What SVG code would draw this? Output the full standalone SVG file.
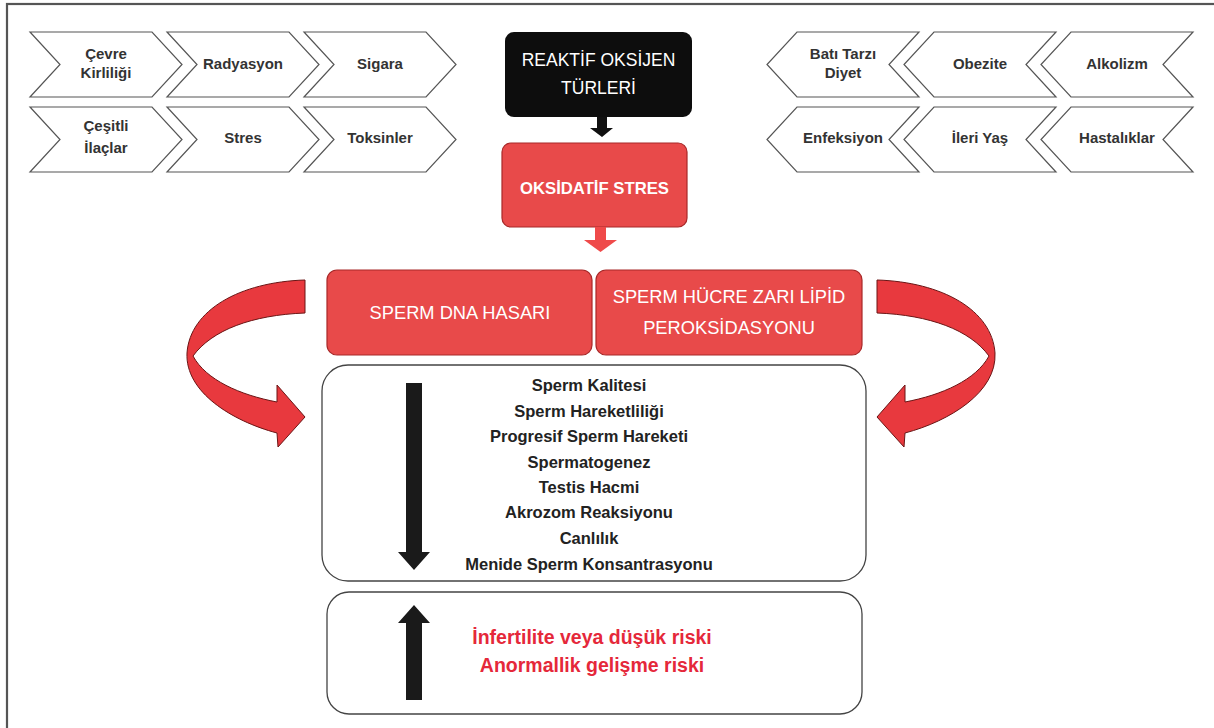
<svg xmlns="http://www.w3.org/2000/svg" width="1214" height="728" viewBox="0 0 1214 728">
<defs>
<style>
.chev{fill:#fff;stroke:#555;stroke-width:1.2;stroke-linejoin:miter}
.ct{font-family:"Liberation Sans",Arial,sans-serif;font-weight:bold;font-size:15px;fill:#333;text-anchor:middle}
.rbox{fill:#e84a4a;stroke:#a82828;stroke-width:1.2}
.wt{font-family:"Liberation Sans",Arial,sans-serif;fill:#fff;text-anchor:middle}
.wbox{fill:#fff;stroke:#444;stroke-width:1.3}
.lt{font-family:"Liberation Sans",Arial,sans-serif;font-weight:bold;font-size:16.5px;fill:#222;text-anchor:middle}
.rt{font-family:"Liberation Sans",Arial,sans-serif;font-weight:bold;font-size:19.5px;fill:#e5283a;text-anchor:middle}
.curv{fill:#e8393e;stroke:#6a1515;stroke-width:1}
</style>
<polygon id="chevR" class="chev" points="0,0 122,0 152,32.5 122,65 0,65 30,32.5"/>
<polygon id="chevL" class="chev" points="30,0 152,0 122,32.5 152,65 30,65 0,32.5"/>
</defs>
<rect x="0" y="0" width="1214" height="728" fill="#fff"/>
<rect x="7" y="4" width="1230" height="760" fill="none" stroke="#555" stroke-width="2.2"/>

<g id="left-factors">
<g id="cevre"><use href="#chevR" x="30" y="32"/><text class="ct" x="106" y="59">Çevre</text><text class="ct" x="106" y="78">Kirliliği</text></g>
<g id="radyasyon"><use href="#chevR" x="167" y="32"/><text class="ct" x="243" y="69">Radyasyon</text></g>
<g id="sigara"><use href="#chevR" x="304" y="32"/><text class="ct" x="380" y="69">Sigara</text></g>
<g id="ilaclar"><use href="#chevR" x="30" y="107"/><text class="ct" x="106" y="131">Çeşitli</text><text class="ct" x="106" y="153">İlaçlar</text></g>
<g id="stres"><use href="#chevR" x="167" y="107"/><text class="ct" x="243" y="143">Stres</text></g>
<g id="toksinler"><use href="#chevR" x="304" y="107"/><text class="ct" x="380" y="143">Toksinler</text></g>
</g>

<g id="right-factors">
<g id="bati"><use href="#chevL" x="767" y="32"/><text class="ct" x="843" y="59">Batı Tarzı</text><text class="ct" x="843" y="78">Diyet</text></g>
<g id="obezite"><use href="#chevL" x="904" y="32"/><text class="ct" x="980" y="69">Obezite</text></g>
<g id="alkolizm"><use href="#chevL" x="1041" y="32"/><text class="ct" x="1117" y="69">Alkolizm</text></g>
<g id="enfeksiyon"><use href="#chevL" x="767" y="107"/><text class="ct" x="843" y="143">Enfeksiyon</text></g>
<g id="ileri-yas"><use href="#chevL" x="904" y="107"/><text class="ct" x="980" y="143">İleri Yaş</text></g>
<g id="hastaliklar"><use href="#chevL" x="1041" y="107"/><text class="ct" x="1117" y="143">Hastalıklar</text></g>
</g>

<g id="ros">
<rect x="505" y="32" width="187" height="85" rx="9" fill="#0d0d0d"/>
<text class="wt" x="598.5" y="66" font-size="17.5">REAKTİF OKSİJEN</text>
<text class="wt" x="598.5" y="94" font-size="17.5">TÜRLERİ</text>
</g>

<g id="oksidatif">
<rect class="rbox" x="502" y="143" width="185" height="84" rx="9"/>
<text class="wt" x="594.5" y="194" font-size="16.7" font-weight="bold">OKSİDATİF STRES</text>
</g>

<g id="dna">
<rect class="rbox" x="327" y="270" width="265" height="85" rx="10"/>
<text class="wt" x="460" y="319" font-size="18.3">SPERM DNA HASARI</text>
</g>

<g id="lipid">
<rect class="rbox" x="596" y="270" width="266" height="85" rx="10"/>
<text class="wt" x="729" y="303" font-size="18.3">SPERM HÜCRE ZARI LİPİD</text>
<text class="wt" x="729" y="334" font-size="18.3">PEROKSİDASYONU</text>
</g>

<g id="parametreler">
<rect class="wbox" x="322" y="365" width="544" height="216" rx="26"/>
<text class="lt" x="589" y="391">Sperm Kalitesi</text>
<text class="lt" x="589" y="417">Sperm Hareketliliği</text>
<text class="lt" x="589" y="442">Progresif Sperm Hareketi</text>
<text class="lt" x="589" y="468">Spermatogenez</text>
<text class="lt" x="589" y="493">Testis Hacmi</text>
<text class="lt" x="589" y="518">Akrozom Reaksiyonu</text>
<text class="lt" x="589" y="544">Canlılık</text>
<text class="lt" x="589" y="570">Menide Sperm Konsantrasyonu</text>
<polygon fill="#1a1a1a" points="406,383 422,383 422,552 430,552 414,570 398,552 406,552"/>
</g>

<g id="riskler">
<rect class="wbox" x="327" y="592" width="535" height="122" rx="22"/>
<polygon fill="#1a1a1a" points="414,605 430,623 422,623 422,700 406,700 406,623 398,623"/>
<text class="rt" x="592" y="644">İnfertilite veya düşük riski</text>
<text class="rt" x="592" y="672">Anormallik gelişme riski</text>
</g>

<g id="connectors">
<polygon fill="#111" points="597,117 607,117 607,128 613,128 602,137 590,128 597,128"/>
<polygon fill="#ef4a4a" points="595,227 606,227 606,240 617,240 600.5,252 584,240 595,240"/>
<path class="curv" d="M305 280 C240 282 190 310 187 353 C185 392 232 421 277 433 L278 447 L305 417 L277 385 L277 402 C240 395 206 380 193 356 C212 330 252 315 305 313 Z"/>
<path class="curv" transform="translate(1182,0) scale(-1,1)" d="M305 280 C240 282 190 310 187 353 C185 392 232 421 277 433 L278 447 L305 417 L277 385 L277 402 C240 395 206 380 193 356 C212 330 252 315 305 313 Z"/>
</g>
</svg>
